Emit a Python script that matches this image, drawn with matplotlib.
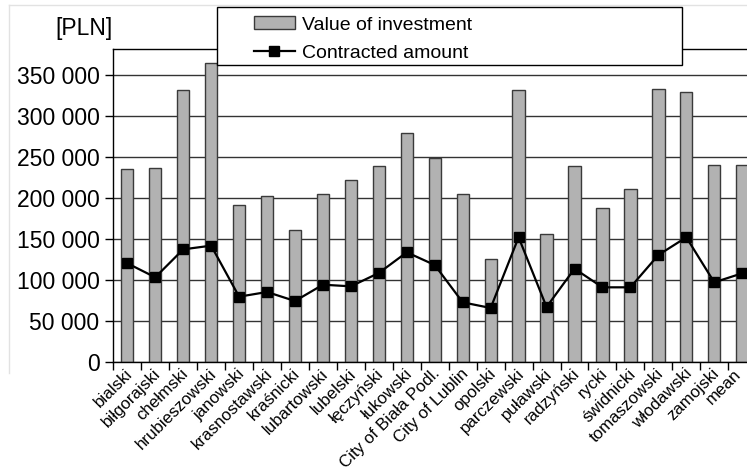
import matplotlib
matplotlib.use("Agg")
import matplotlib.pyplot as plt
from matplotlib.patches import Rectangle
from matplotlib.lines import Line2D
from matplotlib.transforms import ScaledTranslation
import numpy as np

plt.rcParams['font.family'] = ['Liberation Sans', 'DejaVu Sans']

districts = ["bialski", "biłgorajski", "chełmski", "hrubieszowski", "janowski",
             "krasnostawski", "kraśnicki", "lubartowski", "lubelski", "łęczyński",
             "łukowski", "City of Biała Podl.", "City of Lublin", "opolski",
             "parczewski", "puławski", "radzyński", "rycki", "świdnicki",
             "tomaszowski", "włodawski", "zamojski", "mean"]

investment = [234600, 236600, 331000, 363900, 191000, 201500, 160200, 204500,
              221200, 238300, 278500, 248000, 204500, 124900, 331000, 155300,
              238300, 187400, 210200, 332200, 328900, 239500, 239500]

contracted = [120000, 102900, 137000, 141500, 79300, 85000, 74000, 93900,
              91900, 108200, 133400, 117900, 72400, 65500, 151700, 66700,
              113400, 90700, 90700, 130100, 151700, 96800, 107800]

yticks = [0, 50000, 100000, 150000, 200000, 250000, 300000, 350000]
ytick_labels = ["0", "50 000", "100 000", "150 000", "200 000", "250 000",
                "300 000", "350 000"]

fig = plt.figure(figsize=(7.47, 4.73), dpi=100)
ax = fig.add_axes([0.1517, 0.2353, 0.8606, 0.6611])

x = np.arange(len(districts))
bars = ax.bar(x, investment, width=0.44, color="#b2b2b2", edgecolor="#3a3a3a",
              linewidth=1.0, zorder=2, label="Value of investment")
line, = ax.plot(x, contracted, color="black", linewidth=1.6, marker="s",
                markersize=6.5, zorder=3, label="Contracted amount")

ax.set_xlim(-0.5, len(districts) - 0.5)
ax.set_ylim(0, 381300)
ax.set_yticks(yticks)
ax.set_yticklabels(ytick_labels, fontsize=16.5)
ax.yaxis.grid(True, color="#333333", linewidth=1.0, zorder=0)
ax.tick_params(axis="y", length=6, width=1, direction="out", pad=4)

ax.set_xticks(x)
ax.set_xticklabels(districts, rotation=45, ha="right", va="center",
                   rotation_mode="anchor", fontsize=12.2)
ax.tick_params(axis="x", which="major", length=0, pad=7)
labels = ax.get_xticklabels()
for i, lbl in enumerate(labels):
    dx = 3 if i < len(labels) - 1 else -4  # keep "mean" inside the picture
    lbl.set_transform(lbl.get_transform() +
                      ScaledTranslation(dx / 100, 0, fig.dpi_scale_trans))
ax.set_xticks(np.arange(len(districts)) - 0.5, minor=True)
ax.tick_params(axis="x", which="minor", length=6, width=1, direction="out")

for s in ax.spines.values():
    s.set_linewidth(1.0)
    s.set_color("black")

fig.text(55 / 747, 1 - 29 / 473, "[PLN]", fontsize=16.5, va="center", ha="left")

# legend box drawn over the top of the plot
fig.patches.append(Rectangle((217 / 747, 1 - 65 / 473), 465 / 747, 58 / 473,
                             transform=fig.transFigure, facecolor="white",
                             edgecolor="black", linewidth=1.0, zorder=5))
leg = fig.legend([bars, line], ["Value of investment", "Contracted amount"],
                 loc="upper left", bbox_to_anchor=(250 / 747, 1 - 12 / 473),
                 frameon=False, fontsize=14, handlelength=2.1,
                 handletextpad=0.35, labelspacing=0.55, borderpad=0.2,
                 borderaxespad=0)
leg.set_zorder(6)

# faint chart-area border
fig.lines.append(Line2D([9 / 747, 9 / 747], [1 - 5 / 473, 1 - 373 / 473],
                        transform=fig.transFigure, color="#e2e2e2", linewidth=1))
fig.lines.append(Line2D([9 / 747, 1], [1 - 5 / 473, 1 - 5 / 473],
                        transform=fig.transFigure, color="#e2e2e2", linewidth=1))

fig.savefig("out.png", dpi=100)
